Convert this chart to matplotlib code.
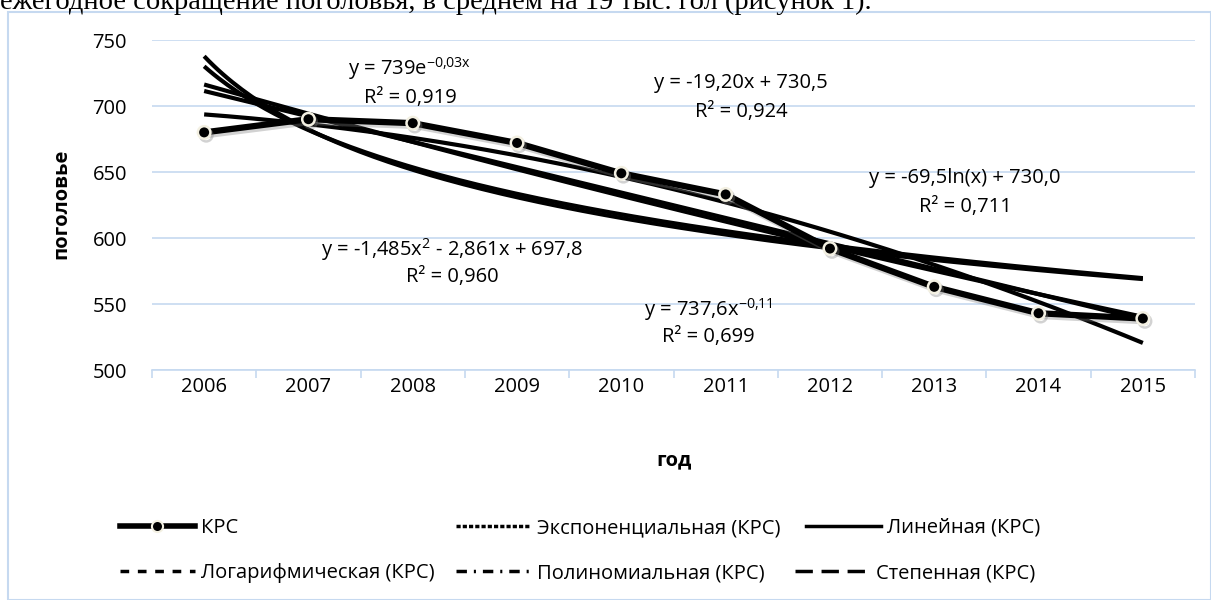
import numpy as np
import matplotlib
matplotlib.use('Agg')
import matplotlib.pyplot as plt
import matplotlib.patheffects as pe
from matplotlib.lines import Line2D
from matplotlib.patches import Rectangle

plt.rcParams['font.family'] = ['Open Sans', 'DejaVu Sans']
plt.rcParams['mathtext.default'] = 'regular'

# data
years = ['2006', '2007', '2008', '2009', '2010', '2011', '2012', '2013', '2014', '2015']
krs = [680, 690, 687, 672, 649, 633, 592, 563, 543, 539]

eq_labels = {
    'exp': ('y = 739e$^{-0{,}03x}$', 'R² = 0,919'),
    'lin': ('y = -19,20x + 730,5', 'R² = 0,924'),
    'log': ('y = -69,5ln(x) + 730,0', 'R² = 0,711'),
    'poly': ('y = -1,485x$^{2}$ - 2,861x + 697,8', 'R² = 0,960'),
    'pow': ('y = 737,6x$^{-0{,}11}$', 'R² = 0,699'),
}

W, H = 1211, 600
FS = 14.5
fig = plt.figure(figsize=(W / 100, H / 100), dpi=100)

def px(x, y):
    return x / W, 1 - y / H

# chart frame
fig.add_artist(Rectangle(px(8, 600), (W - 8) / W, (600 - 12) / H, transform=fig.transFigure,
                         fill=False, edgecolor='#c6d9f0', lw=1.5))
# text from the page above the chart
fig.text(0, 1 - 9 / H, 'ежегодное сокращение поголовья, в среднем на 19 тыс. гол (рисунок 1).',
         family='Liberation Serif', fontsize=20.5, va='baseline', ha='left')

ax = fig.add_axes([152 / W, 1 - 370 / H, (1195 - 152) / W, 330 / H])

# trend lines (computed from the series, x = 1..N like Excel)
y = np.array(krs, dtype=float)
x = np.arange(1, len(y) + 1)
xs = np.linspace(1, len(y), 200)
b_exp = np.polyfit(x, np.log(y), 1)
fits = {
    'exp': np.exp(b_exp[1]) * np.exp(b_exp[0] * xs),
    'lin': np.polyval(np.polyfit(x, y, 1), xs),
    'log': np.polyval(np.polyfit(np.log(x), y, 1), np.log(xs)),
    'poly': np.polyval(np.polyfit(x, y, 2), xs),
}
b_pow = np.polyfit(np.log(x), np.log(y), 1)
fits['pow'] = np.exp(b_pow[1]) * xs ** b_pow[0]

for k in ['exp', 'lin', 'log', 'poly', 'pow']:
    ax.plot(xs - 1, fits[k], color='black', lw=3, solid_capstyle='butt', zorder=3)

shadow = [pe.SimpleLineShadow(offset=(1.5, -2), shadow_color='gray', alpha=0.35), pe.Normal()]
ax.plot(range(len(years)), krs, color='black', lw=4.5, marker='o', ms=9,
        mfc='black', mec='#f3f0e2', mew=1.8, zorder=4, path_effects=shadow)

ax.set_xlim(-0.5, len(years) - 0.5)
ax.set_ylim(500, 750)
ax.set_yticks(range(500, 751, 50))
ax.set_xticks(range(len(years)))
ax.set_xticklabels(years)
ax.set_xticks(np.arange(-0.5, len(years), 1), minor=True)
ax.tick_params(axis='x', which='major', length=0, pad=5, labelsize=FS)
ax.tick_params(axis='x', which='minor', length=6, color='#c6d9f0', width=1.2)
ax.tick_params(axis='y', length=0, pad=18, labelsize=FS)
ax.grid(axis='y', color='#c6d9f0', lw=1.2)
ax.set_axisbelow(True)
for s in ['top', 'right', 'left']:
    ax.spines[s].set_visible(False)
ax.spines['bottom'].set_color('#c6d9f0')
ax.spines['bottom'].set_linewidth(1.2)

fig.text(*px(674, 460), 'год', fontsize=FS, fontweight='bold', ha='center', va='center')
fig.text(*px(61, 204), 'поголовье', fontsize=FS, fontweight='bold', rotation=90,
         ha='center', va='center')

# equation labels
eq_pos = {'exp': (410, 69, 98), 'lin': (741, 83, 112), 'log': (965, 178, 207),
          'poly': (452, 250, 277), 'pow': (708, 310, 337)}
for k, (cx, y1, y2) in eq_pos.items():
    fig.text(*px(cx, y1), eq_labels[k][0], fontsize=FS, ha='center', va='center')
    fig.text(*px(cx, y2), eq_labels[k][1], fontsize=FS, ha='center', va='center')

# legend, laid out entry by entry like Excel does
leg_items = [
    ('КРС', dict(lw=4, marker='o', ms=8, mfc='black', mec='#f3f0e2', mew=1.5), 120, 528),
    ('Экспоненциальная (КРС)', dict(lw=2.5, ls=(0, (1.2, 0.6))), 456, 528),
    ('Линейная (КРС)', dict(lw=2.5, ls='-'), 806, 528),
    ('Логарифмическая (КРС)', dict(lw=2.5, ls=(0, (2.5, 2.5))), 120, 573),
    ('Полиномиальная (КРС)', dict(lw=2.5, ls=(0, (3, 2, 0.6, 2))), 456, 573),
    ('Степенная (КРС)', dict(lw=2.5, ls=(0, (5, 2.5))), 795, 573),
]
for name, style, lx, ly in leg_items:
    h = Line2D([], [], color='black', **style)
    fig.legend([h], [name], loc='center left', bbox_to_anchor=px(lx, ly),
               bbox_transform=fig.transFigure, frameon=False, fontsize=FS,
               handlelength=3.7, handletextpad=0.3, borderaxespad=0, borderpad=0)

fig.savefig('out.png', dpi=100)
